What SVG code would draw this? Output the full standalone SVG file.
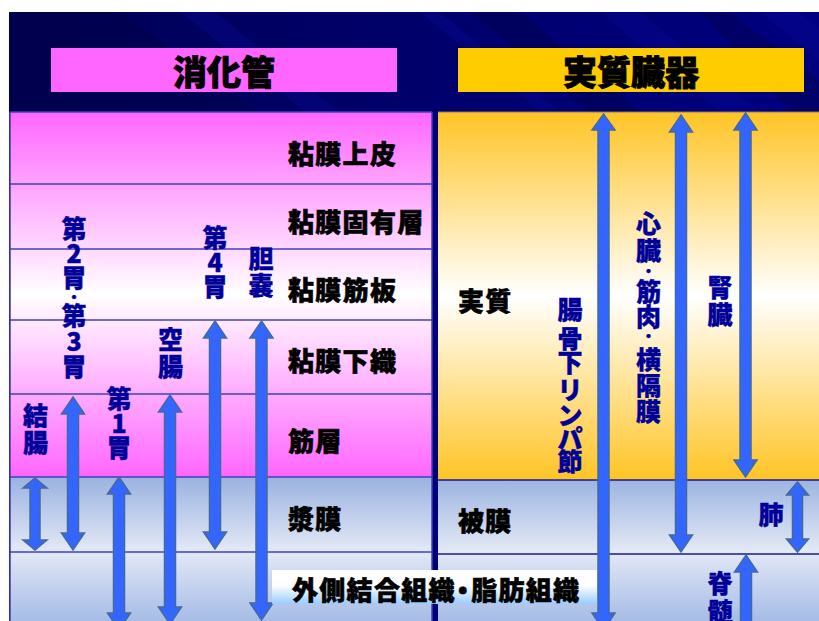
<svg xmlns="http://www.w3.org/2000/svg" width="819" height="621" viewBox="0 0 819 621">
<defs>
<linearGradient id="navy" x1="0" y1="0" x2="1" y2="0">
<stop offset="0" stop-color="#000055"/><stop offset="1" stop-color="#000080"/>
</linearGradient>
<linearGradient id="pink" gradientUnits="userSpaceOnUse" x1="0" y1="112" x2="0" y2="477">
<stop offset="0" stop-color="#FF66FF"/><stop offset="0.5" stop-color="#FFFFFF"/><stop offset="1" stop-color="#FF66FF"/>
</linearGradient>
<linearGradient id="yellow" gradientUnits="userSpaceOnUse" x1="0" y1="112" x2="0" y2="480">
<stop offset="0" stop-color="#FFC425"/><stop offset="0.5" stop-color="#FFFFFF"/><stop offset="1" stop-color="#FFC425"/>
</linearGradient>
<linearGradient id="band1" gradientUnits="userSpaceOnUse" x1="0" y1="477" x2="0" y2="554">
<stop offset="0" stop-color="#9AB2E0"/><stop offset="1" stop-color="#E6EBF6"/>
</linearGradient>
<linearGradient id="band2" gradientUnits="userSpaceOnUse" x1="0" y1="552" x2="0" y2="621">
<stop offset="0" stop-color="#E2E8F5"/><stop offset="1" stop-color="#A6BCE6"/>
</linearGradient>
<linearGradient id="wbox" gradientUnits="userSpaceOnUse" x1="0" y1="570" x2="0" y2="604">
<stop offset="0" stop-color="#FFFFFF"/><stop offset="0.45" stop-color="#FFFFFF"/><stop offset="1" stop-color="#99CCFF"/>
</linearGradient>
<style>
.hd{font-family:"Noto Sans CJK JP","Noto Sans CJK SC",sans-serif;font-weight:900;font-size:34px;fill:#000;stroke:#000;stroke-width:0.9;text-anchor:middle;dominant-baseline:central}
.lb{font-family:"Noto Sans CJK JP","Noto Sans CJK SC",sans-serif;font-weight:900;font-size:26px;fill:#000;stroke:#000;stroke-width:0.6;dominant-baseline:central;letter-spacing:1.3px}
.vt{font-family:"Noto Sans CJK JP","Noto Sans CJK SC",sans-serif;font-weight:900;font-size:25px;fill:#000099;stroke:#000099;stroke-width:0.4;text-anchor:middle;dominant-baseline:central}
.dot{font-size:14px}
.ln{stroke:#4040C0;stroke-width:1.5;fill:none}
.rl{stroke:#1A1A99;stroke-width:1.5;fill:none}
.ar{fill:#3366FF;stroke:#45699C;stroke-width:1.5;stroke-linejoin:miter}
.st{fill:#0A0A99;opacity:0.35}
.sd{fill:#000040;opacity:0.35}
</style>
</defs>
<rect x="0" y="0" width="819" height="621" fill="#FFFFFF"/>
<g id="background">
<rect x="9" y="12" width="810" height="609" fill="url(#navy)"/>
<polygon class="sd" points="9,12 120,12 260,112 9,112"/>
<polygon class="st" points="180,12 215,12 340,112 305,112"/>
<polygon class="st" points="420,12 440,12 560,112 540,112"/>
<polygon class="sd" points="470,12 520,12 640,112 590,112"/>
<polygon class="st" points="600,12 640,12 760,112 720,112"/>
<polygon class="sd" points="700,12 730,12 819,80 819,112 790,112"/>
<polygon class="st" points="760,12 800,12 819,28 819,60"/>
</g>
<g id="header-digestive">
<rect x="51" y="48" width="346" height="44" fill="#FF66FF"/>
<text class="hd" x="224" y="70">消化管</text>
</g>
<g id="header-parenchymal">
<rect x="458" y="48" width="346" height="44" fill="#FFCC00"/>
<text class="hd" x="631" y="70">実質臓器</text>
</g>
<g id="left-panel">
<rect x="10" y="112" width="422" height="365" fill="url(#pink)"/>
<rect x="10" y="477" width="422" height="75" fill="url(#band1)"/>
<rect x="10" y="552" width="422" height="69" fill="url(#band2)"/>
<path class="ln" d="M10,112H432M10,184H432M10,249H432M10,320H432M10,394H432M10,477H432M10,552H432M10,112V621M432,112V621"/>
</g>
<g id="right-panel">
<rect x="438" y="112" width="381" height="368" fill="url(#yellow)"/>
<rect x="438" y="480" width="381" height="74" fill="url(#band1)"/>
<rect x="438" y="554" width="381" height="67" fill="url(#band2)"/>
<path d="M438,112H819" stroke="#8A7A60" stroke-width="1"/>
<path class="rl" d="M438,480H819M438,554H819"/>
<rect x="433.5" y="112" width="4.5" height="509" fill="#00007A"/>
</g>
<g id="layer-epithelium"><text class="lb" x="288" y="152">粘膜上皮</text></g>
<g id="layer-lamina-propria"><text class="lb" x="288" y="220">粘膜固有層</text></g>
<g id="layer-muscularis-mucosae"><text class="lb" x="288" y="288">粘膜筋板</text></g>
<g id="layer-submucosa"><text class="lb" x="288" y="359">粘膜下織</text></g>
<g id="layer-muscle"><text class="lb" x="288" y="439">筋層</text></g>
<g id="layer-serosa"><text class="lb" x="288" y="517">漿膜</text></g>
<g id="layer-parenchyma"><text class="lb" x="458" y="299">実質</text></g>
<g id="layer-capsule"><text class="lb" x="458" y="519">被膜</text></g>
<g id="connectors">
<path class="ar" d="M35,478L47,488L40,488L40,540L47,540L35,550L23,540L30,540L30,488L23,488Z"/>
<path class="ar" d="M73,397L84.5,414L78.5,414L78.5,533L84.5,533L73,550L61.5,533L67.5,533L67.5,414L61.5,414Z"/>
<path class="ar" d="M119,477L130.5,494L124.5,494L124.5,613L130.5,613L119,630L107.5,613L113.5,613L113.5,494L107.5,494Z"/>
<path class="ar" d="M170,395L181.5,412L175.5,412L175.5,607L181.5,607L170,624L158.5,607L164.5,607L164.5,412L158.5,412Z"/>
<path class="ar" d="M215,321L226.5,338L220.5,338L220.5,532L226.5,532L215,549L203.5,532L209.5,532L209.5,338L203.5,338Z"/>
<path class="ar" d="M261.5,321L273,338L267,338L267,603L273,603L261.5,620L250,603L256,603L256,338L250,338Z"/>
<path class="ar" d="M603.5,114L615,130L609,130L609,613L615,613L603.5,630L592,613L598,613L598,130L592,130Z"/>
<path class="ar" d="M681,115L692.5,132L686.5,132L686.5,535L692.5,535L681,552L669.5,535L675.5,535L675.5,132L669.5,132Z"/>
<path class="ar" d="M745.5,113L757,130L751,130L751,460L757,460L745.5,477L734,460L740,460L740,130L734,130Z"/>
<path class="ar" d="M797.5,482L808.5,495L802.5,495L802.5,539L808.5,539L797.5,552L786.5,539L792.5,539L792.5,495L786.5,495Z"/>
<path class="ar" d="M746,555L757.5,572L751.5,572L751.5,680L757.5,680L746,697L734.5,680L740.5,680L740.5,572L734.5,572Z"/>
</g>
<g id="layer-outer-connective">
<rect x="272" y="570" width="325" height="34" fill="url(#wbox)"/>
<text class="lb" x="292" y="588" letter-spacing="0">外側結合組織<tspan dx="-6">・</tspan><tspan dx="-6">脂肪組織</tspan></text>
</g>
<g id="label-rumen-reticulum-omasum"><text class="vt"><tspan x="74" y="226.5">第</tspan><tspan x="74" y="252">2</tspan><tspan x="74" y="276">胃</tspan><tspan class="dot" x="74" y="296">・</tspan><tspan x="74" y="314">第</tspan><tspan x="74" y="340">3</tspan><tspan x="74" y="365">胃</tspan></text></g>
<g id="label-colon"><text class="vt"><tspan x="35.5" y="413.5">結</tspan><tspan x="35.5" y="440.5">腸</tspan></text></g>
<g id="label-rumen"><text class="vt"><tspan x="119" y="396.5">第</tspan><tspan x="119" y="421.5">1</tspan><tspan x="119" y="446">胃</tspan></text></g>
<g id="label-jejunum"><text class="vt"><tspan x="170.5" y="338">空</tspan><tspan x="170.5" y="365">腸</tspan></text></g>
<g id="label-abomasum"><text class="vt"><tspan x="215" y="236">第</tspan><tspan x="215" y="261">4</tspan><tspan x="215" y="285">胃</tspan></text></g>
<g id="label-gallbladder"><text class="vt"><tspan x="261" y="257">胆</tspan><tspan x="261" y="284">嚢</tspan></text></g>
<g id="label-iliac-lymph-node"><text class="vt"><tspan x="570" y="307.5">腸</tspan><tspan x="570" y="337">骨</tspan><tspan x="570" y="361">下</tspan><tspan x="570" y="388">リ</tspan><tspan x="570" y="414">ン</tspan><tspan x="570" y="437">パ</tspan><tspan x="570" y="460">節</tspan></text></g>
<g id="label-heart-muscle-diaphragm"><text class="vt"><tspan x="648.5" y="221.5">心</tspan><tspan x="648.5" y="249">臓</tspan><tspan class="dot" x="648.5" y="270">・</tspan><tspan x="648.5" y="290">筋</tspan><tspan x="648.5" y="315">肉</tspan><tspan class="dot" x="648.5" y="335">・</tspan><tspan x="648.5" y="358">横</tspan><tspan x="648.5" y="384">隔</tspan><tspan x="648.5" y="410">膜</tspan></text></g>
<g id="label-kidney"><text class="vt"><tspan x="720" y="286">腎</tspan><tspan x="720" y="313">臓</tspan></text></g>
<g id="label-lung"><text class="vt"><tspan x="771" y="513">肺</tspan></text></g>
<g id="label-spinal-cord"><text class="vt"><tspan x="720" y="582">脊</tspan><tspan x="720" y="610">髄</tspan></text></g>
</svg>
